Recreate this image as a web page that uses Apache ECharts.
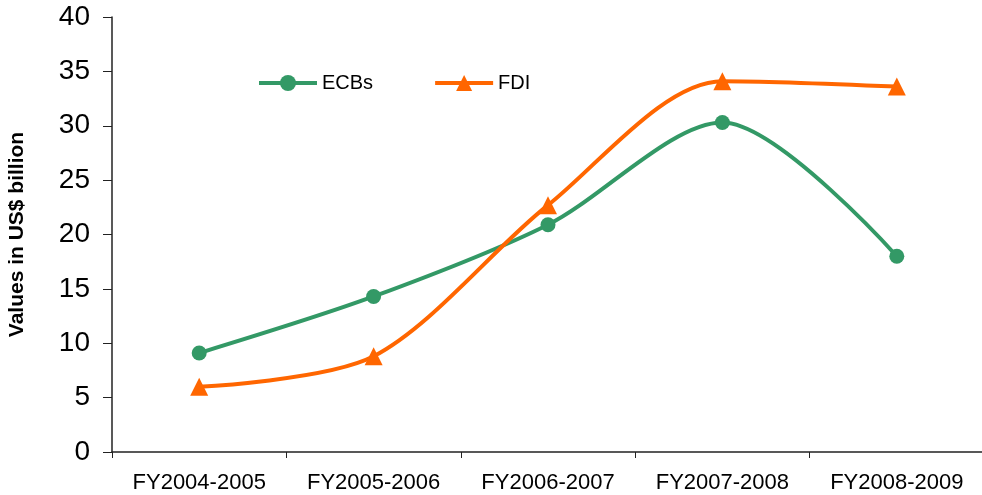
<!DOCTYPE html>
<html>
<head>
<meta charset="utf-8">
<script src="https://cdn.jsdelivr.net/npm/echarts@6/dist/echarts.min.js"></script>
<style>
  html, body { margin: 0; padding: 0; background: #fff; }
  #chart { width: 982px; height: 495px; }
</style>
</head>
<body>
<div id="chart"></div>
<script>
const categories = ['FY2004-2005', 'FY2005-2006', 'FY2006-2007', 'FY2007-2008', 'FY2008-2009'];
const ecbValues = [9.1, 14.3, 20.9, 30.3, 18.0];
const fdiValues = [6.0, 8.8, 22.7, 34.1, 33.6];
const yTicks = { min: 0, max: 40, interval: 5 };

const FONT = 'Liberation Sans, Arial, sans-serif';

const chart = echarts.init(document.getElementById('chart'), null, { renderer: 'canvas' });

chart.setOption({
  animation: false,
  backgroundColor: '#fff',
  grid: { left: 112, right: -2, top: 17, bottom: 43, containLabel: false, outerBoundsMode: 'none' },
  legend: {
    left: 252, top: 68,
    itemWidth: 58, itemHeight: 20, itemGap: 60,
    lineStyle: { width: 4 },
    textStyle: { fontFamily: FONT, fontSize: 20, color: '#000' },
    data: ['ECBs', 'FDI']
  },
  xAxis: {
    type: 'category',
    data: categories,
    boundaryGap: true,
    axisLine: { lineStyle: { color: '#222', width: 1.5 } },
    axisTick: { show: true, length: 6, lineStyle: { color: '#222' } },
    axisLabel: { fontFamily: FONT, fontSize: 22, color: '#000', margin: 20 }
  },
  yAxis: {
    type: 'value',
    min: yTicks.min, max: yTicks.max, interval: yTicks.interval,
    name: 'Values in US$ billion',
    nameLocation: 'middle',
    nameGap: 84,
    nameTextStyle: { fontFamily: FONT, fontSize: 21, fontWeight: 'bold', color: '#000' },
    axisLine: { show: true, lineStyle: { color: '#222', width: 1.5 } },
    axisTick: { show: true, length: 9, lineStyle: { color: '#222' } },
    splitLine: { show: false },
    axisLabel: { fontFamily: FONT, fontSize: 28, color: '#000', margin: 22 }
  },
  series: [
    {
      name: 'ECBs', type: 'line', data: ecbValues,
      smooth: 0.3,
      symbol: 'circle', symbolSize: 15,
      lineStyle: { color: '#339966', width: 4 },
      itemStyle: { color: '#339966' }
    },
    {
      name: 'FDI', type: 'line', data: fdiValues,
      smooth: 0.3,
      symbol: 'triangle', symbolSize: 18,
      lineStyle: { color: '#ff6600', width: 4 },
      itemStyle: { color: '#ff6600' }
    }
  ]
});
</script>
</body>
</html>
